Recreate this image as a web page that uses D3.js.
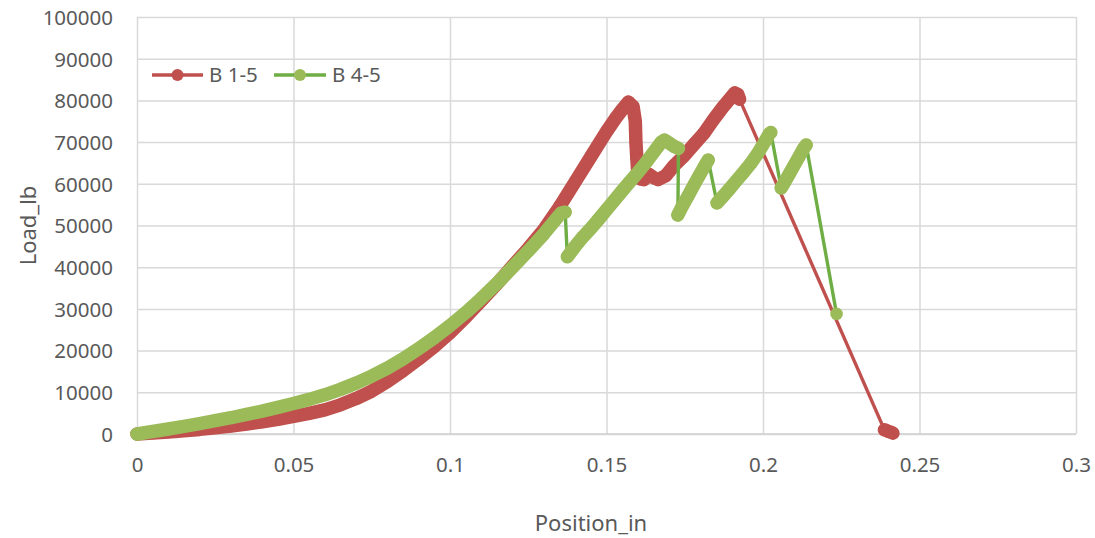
<!DOCTYPE html>
<html>
<head>
<meta charset="utf-8">
<script src="https://cdn.jsdelivr.net/npm/d3@7"></script>
<style>
  html, body { margin: 0; padding: 0; background: #ffffff; }
  svg { display: block; }
  text { font-family: "Noto Sans", "Open Sans", sans-serif; fill: #595959; }
</style>
</head>
<body>
<svg id="chart" width="1095" height="538"></svg>
<script>
// Axis ticks
const xTicks = [0, 0.05, 0.1, 0.15, 0.2, 0.25, 0.3];
const yTicks = [0, 10000, 20000, 30000, 40000, 50000, 60000, 70000, 80000, 90000, 100000];
const xTitle = "Position_in";
const yTitle = "Load_lb";
const seriesNames = ["B 1-5", "B 4-5"];

// B 1-5: [position_in, load_lb]; each inner list is a run of closely spaced readings
const b15Runs = [
  [[0,0],[0.005,250],[0.01,500],[0.015,800],[0.02,1100],[0.025,1500],[0.03,1900],[0.035,2400],
   [0.04,2900],[0.045,3500],[0.05,4200],[0.055,4950],[0.06,5800],[0.065,7000],[0.07,8500],
   [0.075,10300],[0.08,12600],[0.085,15200],[0.09,18000],[0.095,21000],[0.1,24300],[0.105,28000],
   [0.11,32000],[0.115,36000],[0.12,40300],[0.125,44500],[0.13,49000],[0.135,54500],[0.14,60500],
   [0.145,66500],[0.15,72500],[0.153,75800],[0.155,77800],[0.157,79600],[0.1585,78500],
   [0.1592,75000],[0.1594,70000],[0.1597,66000],[0.16,62500],[0.1607,61200],[0.162,61000],
   [0.1635,62300],[0.165,61500],[0.1665,61000],[0.169,62000],[0.1715,64300],[0.1745,66500],
   [0.178,69500],[0.181,72000],[0.184,75200],[0.187,78200],[0.189,80000],[0.191,81800],
   [0.192,81400],[0.1925,80300]],
  [[0.2388,1000],[0.2398,700],[0.241,400],[0.2415,200]]
];

// B 4-5
const b45Runs = [
  [[0,0],[0.005,600],[0.01,1200],[0.015,1850],[0.02,2500],[0.025,3200],[0.03,3900],[0.035,4700],
   [0.04,5500],[0.045,6400],[0.05,7300],[0.055,8300],[0.06,9400],[0.065,10700],[0.07,12200],
   [0.075,13900],[0.08,15800],[0.085,18000],[0.09,20500],[0.095,23100],[0.1,26000],[0.105,29100],
   [0.11,32500],[0.115,36100],[0.12,40000],[0.125,43900],[0.13,48000],[0.1335,51200],
   [0.1355,53000],[0.1368,53200]],
  [[0.1375,42500],[0.14,45000],[0.1425,47300],[0.145,49300],[0.1475,51500],[0.15,53800],
   [0.1525,56000],[0.155,58300],[0.1575,60500],[0.16,62700],[0.1625,65000],[0.165,67500],
   [0.1675,70000],[0.1685,70500],[0.17,69800],[0.1715,69000],[0.173,68500]],
  [[0.1728,52500],[0.174,54300],[0.176,57000],[0.178,59800],[0.1795,61800],[0.181,63800],
   [0.1825,65700]],
  [[0.1853,55400],[0.187,56800],[0.189,58500],[0.191,60300],[0.1935,62500],[0.196,64800],
   [0.1985,67500],[0.2005,70000],[0.202,72000],[0.2025,72300]],
  [[0.2058,59000],[0.207,60500],[0.2085,62500],[0.21,64500],[0.2115,66500],[0.213,68500],
   [0.2138,69300]],
  [[0.2235,28800]]
];

const series = [
  { name: seriesNames[0], runs: b15Runs, marker: "#C0504D", line: "#C0504D" },
  { name: seriesNames[1], runs: b45Runs, marker: "#9BBB59", line: "#6FAE45" }
];

const svg = d3.select("#chart");
const plot = { left: 137, right: 1076, top: 17, bottom: 434 };

const x = d3.scaleLinear().domain([0, 0.3]).range([plot.left, plot.right]);
const y = d3.scaleLinear().domain([0, 100000]).range([plot.bottom, plot.top]);

const tickFont = 20.5;
const markerR = 6.3;
const bandWidth = 13.5;
const lineWidth = 3.4;

// Gridlines and tick labels
const yAxis = svg.append("g")
  .attr("transform", `translate(${plot.left},0)`)
  .call(d3.axisLeft(y).tickValues(yTicks).tickSize(-(plot.right - plot.left))
    .tickPadding(24).tickFormat(d3.format("d")));
yAxis.select(".domain").remove();
yAxis.selectAll(".tick line").attr("stroke", "#d9d9d9").attr("stroke-width", 1.5);
yAxis.selectAll(".tick text")
  .attr("font-size", tickFont).attr("font-family", null)
  .attr("dy", "0.36em").attr("fill", "#595959");

const xAxis = svg.append("g")
  .attr("transform", `translate(0,${plot.bottom})`)
  .call(d3.axisBottom(x).tickValues(xTicks).tickSize(-(plot.bottom - plot.top))
    .tickPadding(24).tickFormat(d => String(+d.toFixed(2))));
xAxis.select(".domain").remove();
xAxis.selectAll(".tick line").attr("stroke", "#d9d9d9").attr("stroke-width", 1.5);
xAxis.selectAll(".tick text")
  .attr("font-size", tickFont).attr("font-family", null)
  .attr("y", 31).attr("dy", "0.36em").attr("fill", "#595959");

// Axis line along the bottom
svg.append("line")
  .attr("x1", x(0)).attr("x2", x(0.3)).attr("y1", y(0)).attr("y2", y(0))
  .attr("stroke", "#d0d0d0").attr("stroke-width", 1.5);

// Axis titles
svg.append("text")
  .attr("x", 591).attr("y", 531)
  .attr("text-anchor", "middle").attr("font-size", 22)
  .text(xTitle);
svg.append("text")
  .attr("transform", `translate(36,${(plot.top + plot.bottom) / 2}) rotate(-90)`)
  .attr("text-anchor", "middle").attr("font-size", 22)
  .text(yTitle);

// Series: connector line through every reading, then the marker trail
const line = d3.line().x(d => x(d[0])).y(d => y(d[1]));

series.forEach(s => {
  const g = svg.append("g");
  const all = s.runs.flat();
  g.append("path")
    .attr("d", line(all))
    .attr("fill", "none").attr("stroke", s.line)
    .attr("stroke-width", lineWidth).attr("stroke-linejoin", "round");
  s.runs.filter(r => r.length > 1).forEach(r => {
    g.append("path")
      .attr("d", line(r))
      .attr("fill", "none").attr("stroke", s.marker)
      .attr("stroke-width", bandWidth)
      .attr("stroke-linejoin", "round").attr("stroke-linecap", "round");
  });
  g.selectAll("circle")
    .data(all)
    .join("circle")
    .attr("cx", d => x(d[0])).attr("cy", d => y(d[1]))
    .attr("r", markerR).attr("fill", s.marker);
});

// Legend
const legendItems = [
  { s: series[0], x0: 152, x1: 203, tx: 209 },
  { s: series[1], x0: 274, x1: 326, tx: 332 }
];
const ly = 75;
legendItems.forEach(it => {
  svg.append("line")
    .attr("x1", it.x0).attr("x2", it.x1).attr("y1", ly).attr("y2", ly)
    .attr("stroke", it.s.line).attr("stroke-width", lineWidth);
  svg.append("circle")
    .attr("cx", (it.x0 + it.x1) / 2).attr("cy", ly).attr("r", 6)
    .attr("fill", it.s.marker);
  svg.append("text")
    .attr("x", it.tx).attr("y", ly).attr("dy", "0.36em")
    .attr("font-size", tickFont)
    .text(it.s.name);
});
</script>
</body>
</html>
